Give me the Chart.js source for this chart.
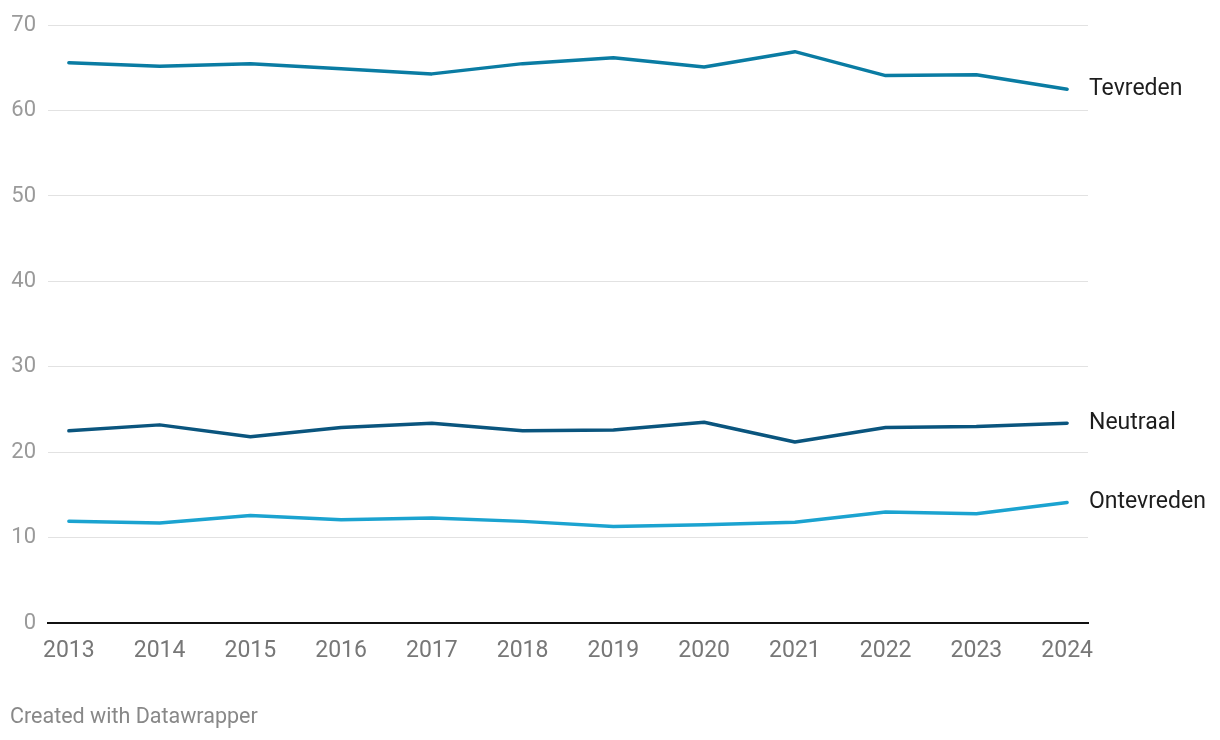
<!DOCTYPE html>
<html>
<head>
<meta charset="utf-8">
<script src="https://cdn.jsdelivr.net/npm/chart.js@4/dist/chart.umd.min.js"></script>
<style>
    body { margin: 0; background: #fff; }
    #wrap { position: relative; width: 1220px; height: 740px; }
    #footer { position: absolute; left: 10px; top: 703px; font: 21.5px Roboto, sans-serif; color: #888; }
</style>
</head>
<body>
<div id="wrap">
    <canvas id="lineChart" width="1220" height="740"></canvas>
    <div id="footer">Created with Datawrapper</div>
</div>
<script>
let years = [2013, 2014, 2015, 2016, 2017, 2018, 2019, 2020, 2021, 2022, 2023, 2024];
let tevreden = [65.6, 65.2, 65.5, 64.9, 64.3, 65.5, 66.2, 65.1, 66.9, 64.1, 64.2, 62.5];
let neutraal = [22.5, 23.2, 21.8, 22.9, 23.4, 22.5, 22.6, 23.5, 21.2, 22.9, 23.0, 23.4];
let ontevreden = [11.9, 11.7, 12.6, 12.1, 12.3, 11.9, 11.3, 11.5, 11.8, 13.0, 12.8, 14.1];
let yTicks = [0, 10, 20, 30, 40, 50, 60, 70];

function toPoints(values) {
    return values.map((v, i) => ({ x: years[i], y: v }));
}

let endLabels = {
    id: 'endLabels',
    afterDatasetsDraw: function (chart) {
        let ctx = chart.ctx;
        ctx.save();
        ctx.font = '23px Roboto, sans-serif';
        ctx.fillStyle = '#1d1d1d';
        ctx.textBaseline = 'middle';
        chart.data.datasets.forEach(function (ds, i) {
            let meta = chart.getDatasetMeta(i);
            let last = meta.data[meta.data.length - 1];
            ctx.fillText(ds.label, chart.chartArea.right + 1, last.y);
        });
        ctx.restore();
    }
};

let ctx = document.getElementById('lineChart').getContext('2d');
let chart = new Chart(ctx, {
    type: 'line',
    data: {
        datasets: [{
            label: 'Tevreden',
            data: toPoints(tevreden),
            borderColor: '#0a7ca3',
        }, {
            label: 'Neutraal',
            data: toPoints(neutraal),
            borderColor: '#0a557e',
        }, {
            label: 'Ontevreden',
            data: toPoints(ontevreden),
            borderColor: '#1ba3d0',
        }]
    },
    options: {
        responsive: false,
        animation: false,
        layout: { padding: { top: 23, right: 132, left: 0, bottom: 0 } },
        elements: {
            line: { borderWidth: 3.5, tension: 0, borderCapStyle: 'round', borderJoinStyle: 'round' },
            point: { radius: 0 }
        },
        plugins: { legend: { display: false }, tooltip: { enabled: false } },
        scales: {
            x: {
                type: 'linear',
                min: 2012.77,
                max: 2024.23,
                afterBuildTicks: function (axis) {
                    axis.ticks = years.map(v => ({ value: v }));
                },
                afterFit: function (axis) { axis.height = 117; },
                grid: { display: false, drawTicks: false },
                border: { display: true, color: '#111', width: 2 },
                ticks: {
                    padding: 14,
                    autoSkip: false,
                    maxRotation: 0,
                    color: '#777',
                    font: { family: 'Roboto', size: 23 },
                    callback: function (value) { return String(value); }
                }
            },
            y: {
                min: 0,
                max: 70,
                afterBuildTicks: function (axis) {
                    axis.ticks = yTicks.map(v => ({ value: v }));
                },
                afterFit: function (axis) { axis.width = 48; },
                grid: { color: '#e2e2e2', lineWidth: 1, drawTicks: false },
                border: { display: false },
                ticks: {
                    padding: 12,
                    color: '#9a9a9a',
                    font: { family: 'Roboto', size: 22 }
                }
            }
        }
    },
    plugins: [endLabels]
});
</script>
</body>
</html>
